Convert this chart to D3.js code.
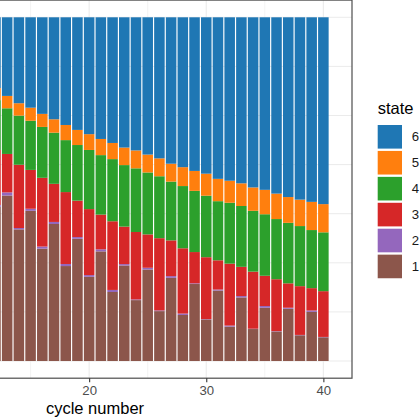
<!DOCTYPE html>
<html>
<head>
<meta charset="utf-8">
<script src="https://cdn.jsdelivr.net/npm/d3@7"></script>
<style>
  body { margin: 0; background: #fff; }
  svg { display: block; font-family: "Liberation Sans", Arial, sans-serif; }
</style>
</head>
<body>
<div id="chart"></div>
<script>
// cycles visible in the crop (earlier cycles sit left of the frame)
const cycles = [12, 13, 14, 15, 16, 17, 18, 19, 20, 21, 22, 23, 24, 25, 26, 27, 28, 29, 30,
                31, 32, 33, 34, 35, 36, 37, 38, 39, 40];

// share of each state per cycle
const state1 = [0.448, 0.482, 0.383, 0.437, 0.327, 0.399, 0.276, 0.356, 0.245, 0.319, 0.201, 0.278, 0.177, 0.266, 0.145,
                0.242, 0.134, 0.224, 0.121, 0.205, 0.100, 0.185, 0.093, 0.155, 0.086, 0.152, 0.075, 0.143, 0.069];
const state2 = [0.006, 0.009, 0.004, 0.006, 0.006, 0.006, 0.006, 0.005, 0.005, 0.006, 0.006, 0.004, 0.002, 0.005, 0.002,
                0.005, 0.004, 0.002, 0.001, 0.003, 0.003, 0.004, 0.001, 0.005, 0.001, 0.003, 0.001, 0.004, 0.001];
const state3 = [0.160, 0.112, 0.184, 0.113, 0.200, 0.111, 0.209, 0.106, 0.192, 0.101, 0.200, 0.109, 0.196, 0.097, 0.210,
                0.104, 0.190, 0.091, 0.180, 0.085, 0.180, 0.085, 0.166, 0.088, 0.151, 0.071, 0.142, 0.065, 0.133];
const state4 = [0.145, 0.133, 0.143, 0.143, 0.148, 0.149, 0.151, 0.162, 0.172, 0.173, 0.181, 0.179, 0.185, 0.180, 0.180,
                0.171, 0.181, 0.178, 0.179, 0.172, 0.177, 0.177, 0.177, 0.179, 0.175, 0.176, 0.175, 0.169, 0.171];
const state5 = [0.035, 0.036, 0.036, 0.038, 0.038, 0.039, 0.044, 0.044, 0.046, 0.047, 0.047, 0.051, 0.052, 0.052, 0.052,
                0.052, 0.055, 0.058, 0.064, 0.065, 0.064, 0.066, 0.068, 0.071, 0.074, 0.075, 0.077, 0.082, 0.082];
const state6 = [0.206, 0.229, 0.250, 0.263, 0.281, 0.297, 0.313, 0.328, 0.340, 0.354, 0.366, 0.379, 0.387, 0.399, 0.410,
                0.426, 0.436, 0.447, 0.455, 0.470, 0.475, 0.483, 0.495, 0.502, 0.513, 0.523, 0.531, 0.537, 0.543];

const states = ["1", "2", "3", "4", "5", "6"];
const stateColors = ["#8c564b", "#9467bd", "#d62728", "#2ca02c", "#ff7f0e", "#1f77b4"];

// full x extent of the data (cycles 1..40) and axis breaks
const xFirst = 1, xLast = 40;
const xMajor = [0, 10, 20, 30, 40];
const xMinor = [5, 15, 25, 35];
const yBreaks = [0, 1, 2, 3, 4, 5, 6, 7].map(k => k / 7);

const width = 420, height = 420;
// panel box (left edge lies outside the frame, the chart is a crop)
const panel = { left: -162, right: 352, top: 0.1, bottom: 378.2 };

const svg = d3.select("#chart").append("svg")
    .attr("width", width)
    .attr("height", height);

const barWidth = 0.9;
const xPad = (xLast - xFirst + barWidth) * 0.05;
const x = d3.scaleLinear()
    .domain([xFirst - barWidth / 2 - xPad, xLast + barWidth / 2 + xPad])
    .range([panel.left, panel.right]);

const y = d3.scaleLinear()
    .domain([-0.05, 1.05])
    .range([panel.bottom, panel.top]);

const color = d3.scaleOrdinal().domain(states).range(stateColors);

// rows for d3.stack
const seriesByState = [state1, state2, state3, state4, state5, state6];
const rows = cycles.map((c, i) => {
    const row = { cycle: c };
    states.forEach((s, j) => { row[s] = seriesByState[j][i]; });
    return row;
});
const stacked = d3.stack().keys(states).offset(d3.stackOffsetExpand)(rows);

// grid
const grid = svg.append("g");
grid.selectAll(".xminor").data(xMinor).enter().append("line")
    .attr("x1", d => x(d)).attr("x2", d => x(d))
    .attr("y1", panel.top).attr("y2", panel.bottom)
    .attr("stroke", "#ebebeb").attr("stroke-width", 0.6);
grid.selectAll(".xmajor").data(xMajor).enter().append("line")
    .attr("x1", d => x(d)).attr("x2", d => x(d))
    .attr("y1", panel.top).attr("y2", panel.bottom)
    .attr("stroke", "#ebebeb").attr("stroke-width", 1.1);
grid.selectAll(".ygrid").data(yBreaks).enter().append("line")
    .attr("x1", panel.left).attr("x2", panel.right)
    .attr("y1", d => y(d)).attr("y2", d => y(d))
    .attr("stroke", "#ebebeb").attr("stroke-width", 1);

// bars
const bw = x(barWidth) - x(0);
svg.append("g").selectAll("g")
    .data(stacked)
    .enter().append("g")
    .attr("fill", d => color(d.key))
    .selectAll("rect")
    .data(d => d)
    .enter().append("rect")
    .attr("x", d => x(d.data.cycle) - bw / 2)
    .attr("width", bw)
    .attr("y", d => y(d[1]))
    .attr("height", d => y(d[0]) - y(d[1]));

// panel border
svg.append("rect")
    .attr("x", panel.left).attr("y", panel.top)
    .attr("width", panel.right - panel.left)
    .attr("height", panel.bottom - panel.top)
    .attr("fill", "none")
    .attr("stroke", "#4d4d4d")
    .attr("stroke-width", 1.2);

// x axis
const xAxis = svg.append("g")
    .attr("transform", `translate(0,${panel.bottom})`)
    .call(d3.axisBottom(x).tickValues([20, 30, 40]).tickSize(4).tickPadding(3).tickFormat(d3.format("d")));
xAxis.select(".domain").remove();
xAxis.selectAll(".tick line").attr("stroke", "#333").attr("stroke-width", 1.1);
xAxis.selectAll(".tick text")
    .attr("fill", "#4d4d4d")
    .style("font-size", "13.2px");

svg.append("text")
    .attr("x", (panel.left + panel.right) / 2)
    .attr("y", 414)
    .attr("text-anchor", "middle")
    .attr("fill", "#000")
    .style("font-size", "16.5px")
    .text("cycle number");

// legend
const legend = svg.append("g").attr("transform", "translate(377.7,0)");
legend.append("text")
    .attr("x", 0).attr("y", 114)
    .style("font-size", "16.5px")
    .attr("fill", "#000")
    .text("state");

const keyStep = 25.93;
const legendStates = states.slice().reverse();
const keys = legend.selectAll(".key").data(legendStates).enter().append("g")
    .attr("transform", (d, i) => `translate(0,${125 + i * keyStep})`);
keys.append("rect")
    .attr("width", 24.3).attr("height", 23.6)
    .attr("fill", d => color(d));
keys.append("text")
    .attr("x", 34).attr("y", 11.8)
    .attr("dy", "0.35em")
    .attr("fill", "#1a1a1a")
    .style("font-size", "13.2px")
    .text(d => d);
</script>
</body>
</html>
